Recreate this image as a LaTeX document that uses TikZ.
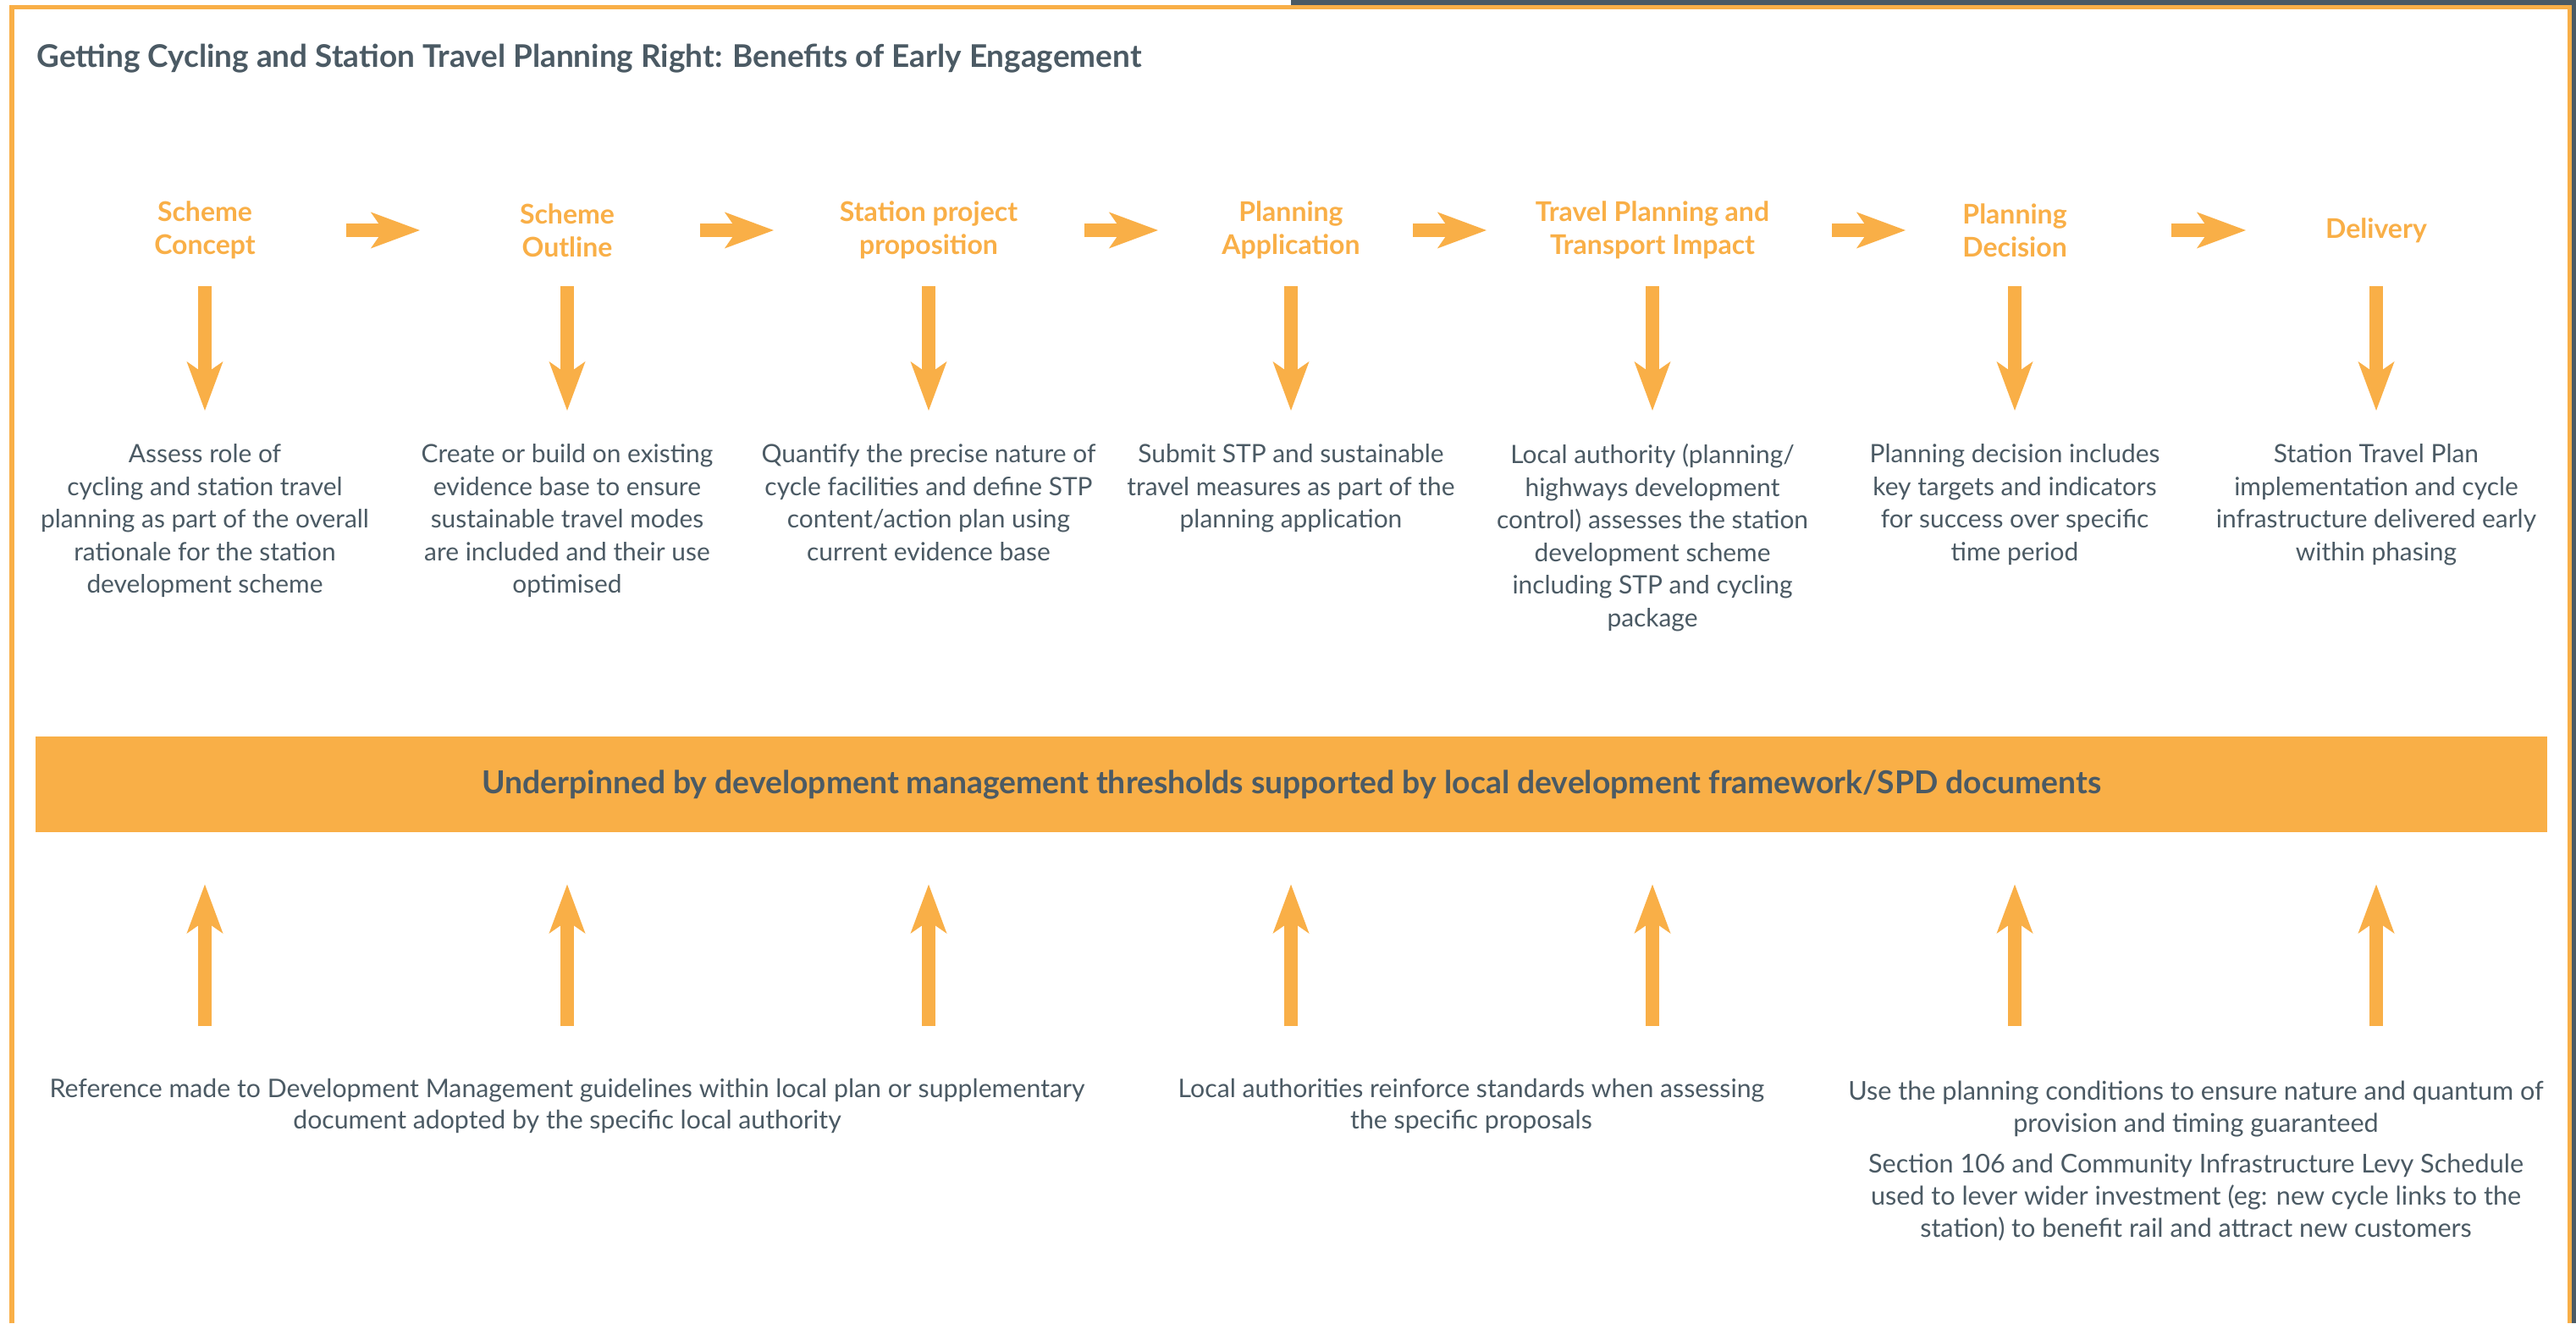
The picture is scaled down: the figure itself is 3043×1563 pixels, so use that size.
\documentclass[tikz,border=0pt]{standalone}
\usepackage{fontspec}
\setmainfont{Lato}
\usepackage{tikz}
\usetikzlibrary{arrows.meta}
\tikzstyle{flow}=[draw=railorange, line width=0.16cm, -{Stealth[length=0.58cm, width=0.43cm, inset=0.15cm, line width=0pt]}]
\tikzset{
  stage/.style={
    align=center,
    text=railorange,
    inner sep=0pt,
    font=\fontsize{9.1}{11.1}\selectfont\bfseries},
  stagetext/.style={
    align=center,
    anchor=north,
    text=slate,
    inner sep=0pt,
    font=\fontsize{8.5}{10.95}\selectfont},
  support/.style={
    align=center,
    anchor=north,
    text=slate,
    inner sep=0pt,
    font=\fontsize{8.6}{10.8}\selectfont},
  drop/.style={
    flow,
    shorten <=0.66cm,
    shorten >=0.39cm}
}

\begin{document}
\begin{tikzpicture}[x=0.01cm, y=-0.01cm]
  \definecolor{railorange}{HTML}{F9AF47}
  \definecolor{slate}{HTML}{4B5A64}

  \useasboundingbox[fill=white] (0,0) rectangle (3043,1563);

  % Frame
  \fill[slate] (1525,0) rectangle (3043,5.5);
  \fill[slate] (3038,0) rectangle (3043,1563);
  \draw[railorange, line width=0.05cm] (14,1563) -- (14,8) -- (3035.5,8) -- (3035.5,1563);

  \node (title) [anchor=base west, inner sep=0pt, text=slate, font=\fontsize{10.5}{12}\selectfont\bfseries] at (43,79)
    {Getting Cycling and Station Travel Planning Right: Benefits of Early Engagement};

  % Stages
  \node (concept) [stage] at (242,272) {Scheme\\Concept};
  \node (outline) [stage] at (670,272) {Scheme\\Outline};
  \node (proposition) [stage] at (1097,272) {Station project\\proposition};
  \node (application) [stage] at (1525,272) {Planning\\Application};
  \node (impact) [stage] at (1952,272) {Travel Planning and\\Transport Impact};
  \node (decision) [stage] at (2380,272) {Planning\\Decision};
  \node (delivery) [stage] at (2807,272) {Delivery};

  \draw[flow, shorten <=1.67cm, shorten >=1.74cm] (concept.center) -- (outline.center);
  \draw[flow, shorten <=1.57cm, shorten >=1.83cm] (outline.center) -- (proposition.center);
  \draw[flow, shorten <=1.84cm, shorten >=1.57cm] (proposition.center) -- (application.center);
  \draw[flow, shorten <=1.44cm, shorten >=1.96cm] (application.center) -- (impact.center);
  \draw[flow, shorten <=2.12cm, shorten >=1.29cm] (impact.center) -- (decision.center);
  \draw[flow, shorten <=1.85cm, shorten >=1.54cm] (decision.center) -- (delivery.center);

  % What each stage covers
  \node (concept-text) [stagetext] at (242,524) {Assess role of\\cycling and station travel\\planning as part of the overall\\rationale for the station\\development scheme};
  \node (outline-text) [stagetext] at (670,524) {Create or build on existing\\evidence base to ensure\\sustainable travel modes\\are included and their use\\optimised};
  \node (proposition-text) [stagetext] at (1097,524) {Quantify the precise nature of\\cycle facilities and define STP\\content/action plan using\\current evidence base};
  \node (application-text) [stagetext] at (1525,524) {Submit STP and sustainable\\travel measures as part of the\\planning application};
  \node (impact-text) [stagetext] at (1952,524) {Local authority (planning/\\highways development\\control) assesses the station\\development scheme\\including STP and cycling\\package};
  \node (decision-text) [stagetext] at (2380,524) {Planning decision includes\\key targets and indicators\\for success over specific\\time period};
  \node (delivery-text) [stagetext] at (2807,524) {Station Travel Plan\\implementation and cycle\\infrastructure delivered early\\within phasing};

  \draw[drop] (concept.center) -- (concept-text.north);
  \draw[drop] (outline.center) -- (outline-text.north);
  \draw[drop] (proposition.center) -- (proposition-text.north);
  \draw[drop] (application.center) -- (application-text.north);
  \draw[drop] (impact.center) -- (impact-text.north);
  \draw[drop] (decision.center) -- (decision-text.north);
  \draw[drop] (delivery.center) -- (delivery-text.north);

  % Underpinning bar
  \node (underpin) [fill=railorange, text=slate, inner sep=0pt, minimum width=29.65cm, minimum height=1.13cm, font=\fontsize{10.6}{12}\selectfont\bfseries] at (1525.5,926.5)
    {Underpinned by development management thresholds supported by local development framework/SPD documents};

  % Supporting arrows
  \coordinate (foot1) at (242,1212);
  \coordinate (foot2) at (670,1212);
  \coordinate (foot3) at (1097,1212);
  \coordinate (foot4) at (1525,1212);
  \coordinate (foot5) at (1952,1212);
  \coordinate (foot6) at (2380,1212);
  \coordinate (foot7) at (2807,1212);
  \draw[flow, shorten >=0.61cm] (foot1) -- (foot1 |- underpin.south);
  \draw[flow, shorten >=0.61cm] (foot2) -- (foot2 |- underpin.south);
  \draw[flow, shorten >=0.61cm] (foot3) -- (foot3 |- underpin.south);
  \draw[flow, shorten >=0.61cm] (foot4) -- (foot4 |- underpin.south);
  \draw[flow, shorten >=0.61cm] (foot5) -- (foot5 |- underpin.south);
  \draw[flow, shorten >=0.61cm] (foot6) -- (foot6 |- underpin.south);
  \draw[flow, shorten >=0.61cm] (foot7) -- (foot7 |- underpin.south);

  % Supporting measures
  \node (guidance) [support] at (670,1273) {Reference made to Development Management guidelines within local plan or supplementary\\document adopted by the specific local authority};
  \node (standards) [support] at (1738,1273) {Local authorities reinforce standards when assessing\\the specific proposals};
  \node (conditions) [support, font=\fontsize{8.7}{10.8}\selectfont] at (2594,1276) {Use the planning conditions to ensure nature and quantum of\\provision and timing guaranteed\\[0.1cm]Section 106 and Community Infrastructure Levy Schedule\\used to lever wider investment (eg: new cycle links to the\\station) to benefit rail and attract new customers};
\end{tikzpicture}
\end{document}
